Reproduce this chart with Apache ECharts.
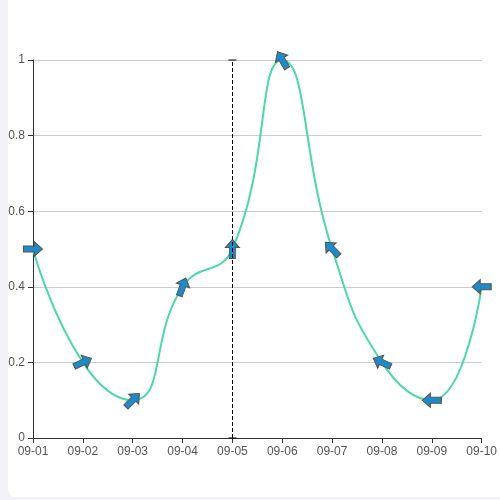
<!DOCTYPE html>
<html>
<head>
<meta charset="utf-8">
<style>
html,body{margin:0;padding:0;width:500px;height:500px;background:#f2f2f8;overflow:hidden;}
#card{position:absolute;left:8px;top:0;width:492px;height:497px;background:#fff;border-bottom-left-radius:8px;}
#main{position:absolute;left:0;top:0;width:500px;height:500px;}
</style>
<script src="https://cdn.jsdelivr.net/npm/echarts@6/dist/echarts.min.js"></script>
</head>
<body>
<div id="card"></div>
<div id="main"></div>
<script>
const categories = ['09-01','09-02','09-03','09-04','09-05','09-06','09-07','09-08','09-09','09-10'];
const values = [0.5, 0.2, 0.1, 0.4, 0.5, 1.0, 0.5, 0.2, 0.1, 0.4];
const directions = [0, 25, 45, 70, 90, 120, 135, 155, 180, 180];
const markDate = '09-05';

const arrow = 'path://M0,4 L11,4 L11,0 L19,7 L11,14 L11,10 L0,10 Z';
const chart = echarts.init(document.getElementById('main'));
chart.setOption({
  animation: false,
  grid: {left: 33, right: 17, top: 60, bottom: 62},
  xAxis: {
    type: 'category',
    boundaryGap: false,
    data: categories,
    axisLine: {lineStyle: {color: '#333'}},
    axisTick: {alignWithLabel: true, lineStyle: {color: '#333'}},
    axisLabel: {color: '#555', fontSize: 12}
  },
  yAxis: {
    type: 'value',
    min: 0, max: 1, interval: 0.2,
    axisLine: {show: true, lineStyle: {color: '#333'}},
    axisTick: {show: true, lineStyle: {color: '#333'}},
    axisLabel: {color: '#555', fontSize: 12},
    splitLine: {lineStyle: {color: '#ccc'}}
  },
  series: [{
    type: 'line',
    smooth: true,
    data: values.map((v, i) => ({value: v, symbolRotate: directions[i]})),
    symbol: arrow,
    symbolSize: [19, 14],
    lineStyle: {color: '#4dd8a6', width: 2},
    itemStyle: {color: '#1e8bc8', borderColor: '#555', borderWidth: 1},
    markLine: {
      silent: true,
      symbol: ['rect', 'rect'],
      symbolSize: [8, 1],
      label: {show: false},
      lineStyle: {color: '#000', type: 'dashed', width: 1},
      data: [[{coord: [markDate, 0]}, {coord: [markDate, 1]}]]
    }
  }]
});
</script>
</body>
</html>
